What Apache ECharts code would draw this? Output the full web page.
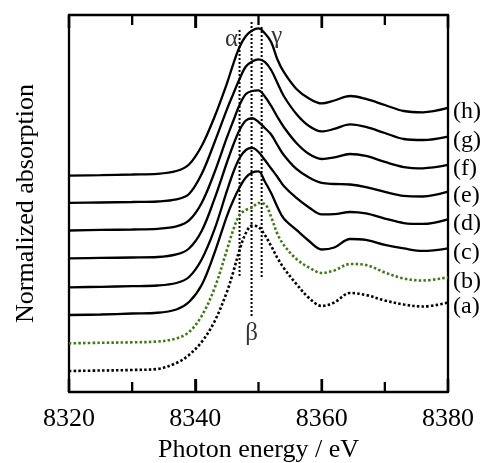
<!DOCTYPE html>
<html><head><meta charset="utf-8">
<script src="https://cdn.jsdelivr.net/npm/echarts@6/dist/echarts.min.js"></script>
<style>html,body{margin:0;padding:0;background:#fff}#c{width:484px;height:463px}</style>
</head><body><div id="c"></div>
<script>
// Photon energy grid (eV)
const energy = [8320, 8325, 8330, 8334, 8337, 8339, 8341, 8343, 8345, 8346, 8347, 8348, 8349, 8350, 8351, 8352, 8353, 8354, 8356, 8358, 8360, 8362, 8364.5, 8367, 8370, 8373, 8376, 8380];

// Normalized absorption, with vertical offsets as plotted
const curveA = [0.312, 0.319, 0.327, 0.342, 0.431, 0.550, 0.743, 1.040, 1.486, 1.783, 2.109, 2.362, 2.473, 2.451, 2.332, 2.169, 1.991, 1.842, 1.604, 1.396, 1.278, 1.330, 1.471, 1.441, 1.359, 1.300, 1.270, 1.327];
const curveB = [0.723, 0.731, 0.738, 0.750, 0.795, 0.891, 1.129, 1.530, 2.109, 2.407, 2.629, 2.704, 2.741, 2.808, 2.793, 2.600, 2.347, 2.184, 1.976, 1.849, 1.768, 1.805, 1.901, 1.887, 1.775, 1.686, 1.656, 1.704];
const curveC = [1.144, 1.151, 1.166, 1.177, 1.226, 1.337, 1.589, 2.057, 2.614, 2.845, 3.038, 3.186, 3.260, 3.276, 3.127, 2.956, 2.748, 2.577, 2.407, 2.243, 2.117, 2.147, 2.273, 2.258, 2.184, 2.132, 2.095, 2.135];
const curveD = [1.555, 1.563, 1.572, 1.582, 1.619, 1.708, 1.968, 2.407, 2.986, 3.261, 3.476, 3.595, 3.625, 3.565, 3.446, 3.320, 3.194, 3.060, 2.882, 2.741, 2.637, 2.641, 2.674, 2.652, 2.577, 2.510, 2.496, 2.565];
const curveE = [1.986, 1.991, 1.998, 2.005, 2.043, 2.132, 2.392, 2.860, 3.409, 3.669, 3.892, 4.033, 4.066, 4.011, 3.922, 3.825, 3.669, 3.521, 3.313, 3.186, 3.105, 3.090, 3.082, 3.045, 2.971, 2.912, 2.904, 2.975];
const curveF = [2.399, 2.407, 2.414, 2.424, 2.459, 2.548, 2.808, 3.253, 3.781, 4.026, 4.263, 4.427, 4.471, 4.479, 4.390, 4.249, 4.085, 3.937, 3.699, 3.535, 3.461, 3.484, 3.535, 3.506, 3.417, 3.342, 3.323, 3.372];
const curveG = [2.808, 2.815, 2.822, 2.830, 2.860, 2.941, 3.238, 3.699, 4.197, 4.427, 4.650, 4.835, 4.910, 4.942, 4.902, 4.783, 4.590, 4.397, 4.130, 3.951, 3.870, 3.907, 3.974, 3.937, 3.847, 3.758, 3.743, 3.795];
const curveH = [3.213, 3.221, 3.231, 3.241, 3.283, 3.380, 3.654, 4.078, 4.583, 4.872, 5.125, 5.288, 5.370, 5.400, 5.328, 5.199, 4.939, 4.754, 4.501, 4.360, 4.286, 4.330, 4.397, 4.353, 4.263, 4.174, 4.155, 4.219];
const curveLabels = ['(a)', '(b)', '(c)', '(d)', '(e)', '(f)', '(g)', '(h)'];

// Peak marker lines (alpha, beta, gamma)
const markerNames = ['α', 'β', 'γ'];
const markerEnergy = [8347.0, 8348.9, 8350.5];
const markerTop = [5.378, 5.496, 5.422];
const markerBottom = [1.693, 1.119, 1.693];

// Axis ticks: all tick positions and the labelled ones
const xTicks = [8320, 8330, 8340, 8350, 8360, 8370, 8380];
const xTickLabels = [8320, 8340, 8360, 8380];
const Y_MIN = 0, Y_MAX = 5.6;

const FONT = 'Liberation Serif';
const curves = [curveA, curveB, curveC, curveD, curveE, curveF, curveG, curveH];
const styles = [
  {color: '#000', type: [2.5, 2.2], width: 2.6},
  {color: '#3f7a14', type: [2.5, 2.2], width: 2.6},
  null, null, null, null, null, null
];

const series = curves.map((vals, i) => {
  const st = styles[i] || {color: '#000', type: 'solid', width: 2.3};
  return {
    type: 'line',
    data: energy.map((e, k) => [e, vals[k]]),
    showSymbol: false,
    symbol: 'none',
    smooth: 0.35,
    lineStyle: {color: st.color, width: st.width, type: st.type, cap: 'butt'},
    endLabel: {
      show: true,
      formatter: curveLabels[i],
      fontFamily: FONT,
      fontSize: 24,
      color: '#000',
      distance: 5,
      verticalAlign: 'top',
      lineHeight: 8
    },
    z: 3
  };
});

markerNames.forEach((nm, j) => {
  series.push({
    type: 'line',
    data: [[markerEnergy[j], markerTop[j]], [markerEnergy[j], markerBottom[j]]],
    showSymbol: false,
    symbol: 'none',
    lineStyle: {color: '#000', width: 2, type: [2, 2], cap: 'butt'},
    z: 2
  });
  let lab;
  let pt;
  if (j === 0) { pt = [markerEnergy[j], markerTop[j]]; lab = {position: 'left', distance: 1, offset: [0, 9]}; }
  else if (j === 2) { pt = [markerEnergy[j], markerTop[j]]; lab = {position: 'right', distance: 9, offset: [0, 9]}; }
  else { pt = [markerEnergy[j], markerBottom[j]]; lab = {position: 'bottom', distance: 3, offset: [0, 1]}; }
  series.push({
    type: 'scatter',
    data: [pt],
    symbol: 'circle',
    symbolSize: 1,
    itemStyle: {color: 'rgba(0,0,0,0)'},
    label: Object.assign({show: true, formatter: nm, fontFamily: FONT, fontSize: 25, color: '#000'}, lab),
    z: 4
  });
});

// Inward ticks on the top and bottom frame, placed through the x scale
series.push({
  type: 'custom',
  coordinateSystem: 'cartesian2d',
  data: xTicks.map(v => [v, Y_MIN]),
  encode: {x: 0, y: 1},
  clip: false,
  silent: true,
  z: 5,
  renderItem: function (params, api) {
    const v = api.value(0);
    const major = xTickLabels.indexOf(v) >= 0;
    const len = major ? 13 : 10;
    const b = api.coord([v, Y_MIN]);
    const t = api.coord([v, Y_MAX]);
    const st = {stroke: '#000', lineWidth: 2.3, fill: null};
    return {
      type: 'group',
      children: [
        {type: 'line', shape: {x1: b[0], y1: b[1], x2: b[0], y2: b[1] - len}, style: st},
        {type: 'line', shape: {x1: t[0], y1: t[1], x2: t[0], y2: t[1] + len}, style: st}
      ]
    };
  }
});

function xAx(pos) {
  return {
    type: 'value', min: 8320, max: 8380, interval: 20, position: pos,
    axisLine: {show: true, onZero: false, lineStyle: {color: '#000', width: 2.3}},
    axisTick: {show: true, inside: true, length: 13, lineStyle: {color: '#000', width: 2.3}},
    splitLine: {show: false}
  };
}
const xb = xAx('bottom');
xb.name = 'Photon energy / eV';
xb.nameLocation = 'middle';
xb.nameGap = 45;
xb.nameTextStyle = {fontFamily: FONT, fontSize: 26, color: '#000'};
xb.axisLabel = {
  show: true, margin: 14, fontFamily: FONT, fontSize: 26, color: '#000',
  formatter: v => (xTickLabels.indexOf(v) >= 0 ? String(v) : '')
};
const xt = xAx('top');
xt.axisLabel = {show: false};

const chart = echarts.init(document.getElementById('c'), null, {renderer: 'canvas'});
chart.setOption({
  animation: false,
  backgroundColor: '#fff',
  grid: {left: 69, right: 36, top: 15, bottom: 71, containLabel: false, outerBoundsMode: 'none'},
  xAxis: [xb, xt],
  yAxis: [{
    type: 'value', min: Y_MIN, max: Y_MAX, position: 'left',
    name: 'Normalized absorption', nameLocation: 'middle', nameGap: 30,
    nameTextStyle: {fontFamily: FONT, fontSize: 26, color: '#000'},
    axisLine: {show: true, lineStyle: {color: '#000', width: 2.3}},
    axisTick: {show: false}, axisLabel: {show: false}, splitLine: {show: false}
  }, {
    type: 'value', min: Y_MIN, max: Y_MAX, position: 'right',
    axisLine: {show: true, lineStyle: {color: '#000', width: 2.3}},
    axisTick: {show: false}, axisLabel: {show: false}, splitLine: {show: false}
  }],
  series: series
});
</script>
</body></html>
